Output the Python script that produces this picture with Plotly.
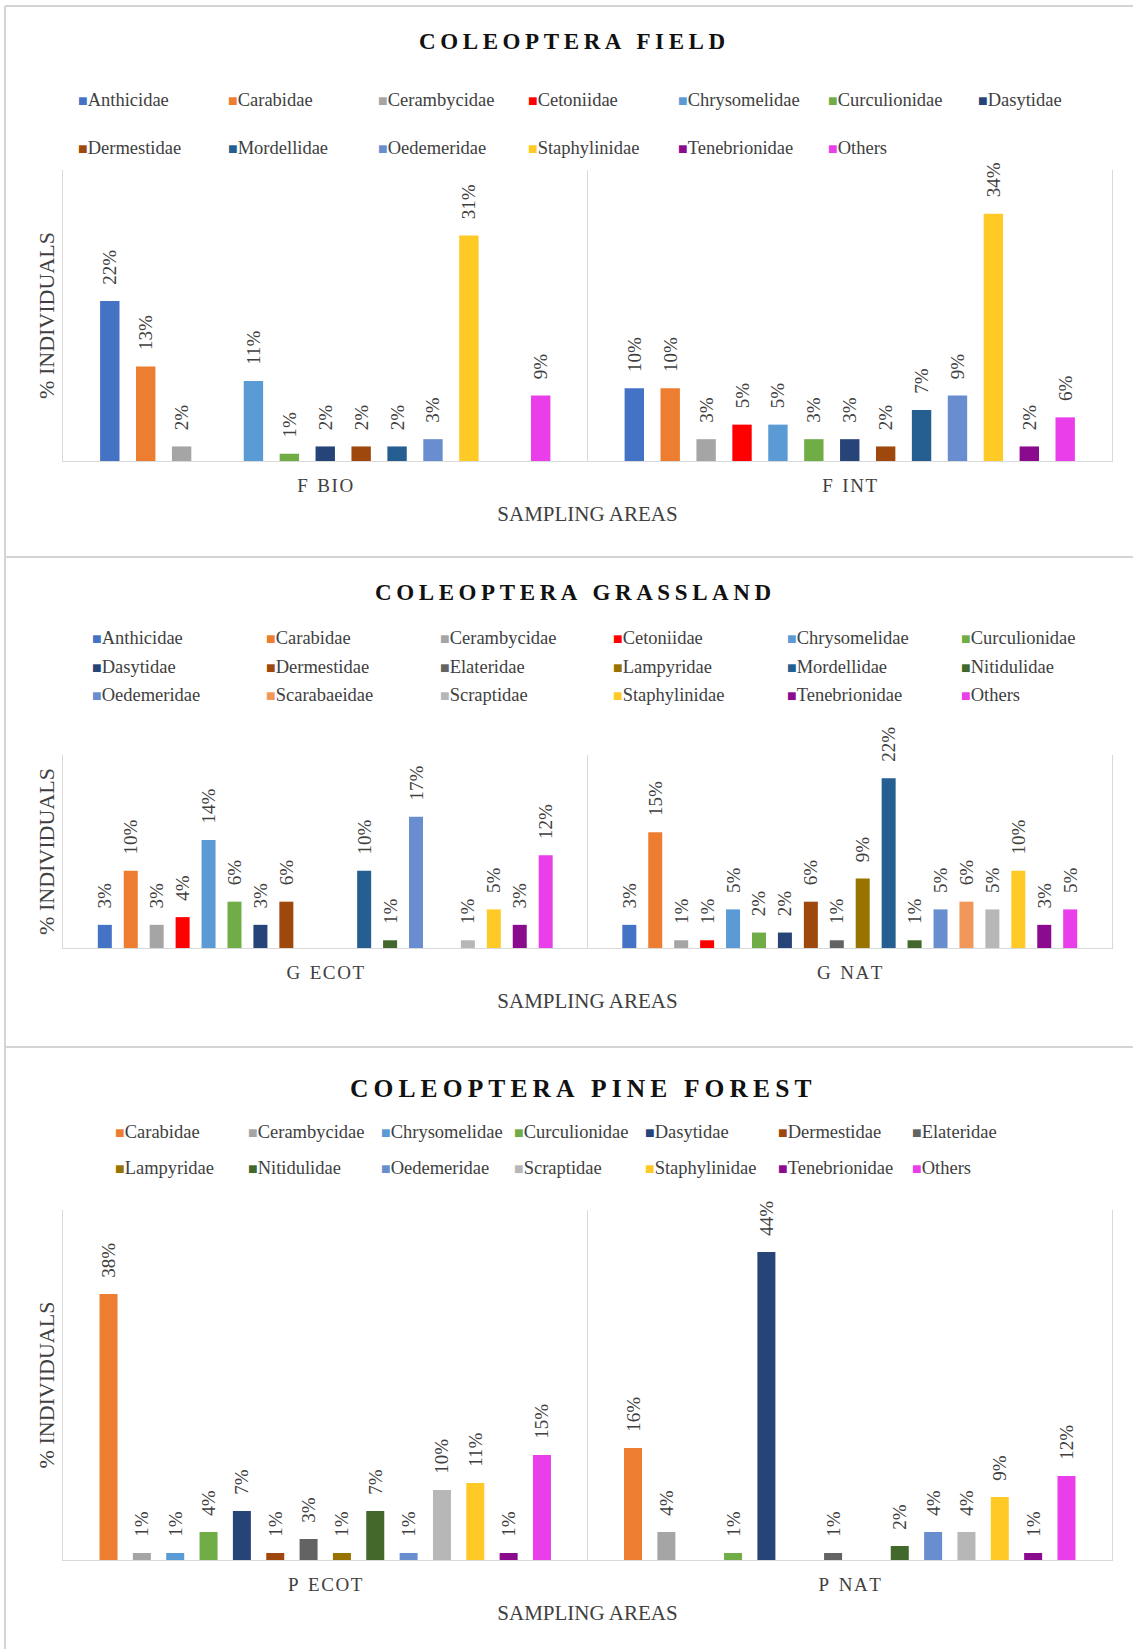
import plotly.graph_objects as go

# ---------------- data ----------------
field_areas = ["F BIO", "F INT"]
field_families = ["Anthicidae", "Carabidae", "Cerambycidae", "Cetoniidae", "Chrysomelidae",
                  "Curculionidae", "Dasytidae", "Dermestidae", "Mordellidae", "Oedemeridae",
                  "Staphylinidae", "Tenebrionidae", "Others"]
field_bio = [22, 13, 2, None, 11, 1, 2, 2, 2, 3, 31, None, 9]
field_int = [10, 10, 3, 5, 5, 3, 3, 2, 7, 9, 34, 2, 6]

grass_areas = ["G ECOT", "G NAT"]
grass_families = ["Anthicidae", "Carabidae", "Cerambycidae", "Cetoniidae", "Chrysomelidae",
                  "Curculionidae", "Dasytidae", "Dermestidae", "Elateridae", "Lampyridae",
                  "Mordellidae", "Nitidulidae", "Oedemeridae", "Scarabaeidae", "Scraptidae",
                  "Staphylinidae", "Tenebrionidae", "Others"]
grass_ecot = [3, 10, 3, 4, 14, 6, 3, 6, None, None, 10, 1, 17, None, 1, 5, 3, 12]
grass_nat = [3, 15, 1, 1, 5, 2, 2, 6, 1, 9, 22, 1, 5, 6, 5, 10, 3, 5]

pine_areas = ["P ECOT", "P NAT"]
pine_families = ["Carabidae", "Cerambycidae", "Chrysomelidae", "Curculionidae", "Dasytidae",
                 "Dermestidae", "Elateridae", "Lampyridae", "Nitidulidae", "Oedemeridae",
                 "Scraptidae", "Staphylinidae", "Tenebrionidae", "Others"]
pine_ecot = [38, 1, 1, 4, 7, 1, 3, 1, 7, 1, 10, 11, 1, 15]
pine_nat = [16, 4, None, 1, 44, None, 1, None, 2, 4, 4, 9, 1, 12]

family_colors = {
    "Anthicidae": "#4472C4", "Carabidae": "#ED7D31", "Cerambycidae": "#A5A5A5",
    "Cetoniidae": "#FF0000", "Chrysomelidae": "#5B9BD5", "Curculionidae": "#70AD47",
    "Dasytidae": "#264478", "Dermestidae": "#9E480E", "Elateridae": "#636363",
    "Lampyridae": "#997300", "Mordellidae": "#255E91", "Nitidulidae": "#43682B",
    "Oedemeridae": "#698ED0", "Scarabaeidae": "#F1975A", "Scraptidae": "#B7B7B7",
    "Staphylinidae": "#FFC926", "Tenebrionidae": "#8B0B8E", "Others": "#E93EE9",
}

# ---------------- styling ----------------
W, H = 1133, 1649
FONT = "Liberation Serif, Times New Roman, serif"
TXT = "#404040"
GRID = "#D9D9D9"
THIN, HAIR, EN = "\u2009", "\u200a", "\u2002"


def px_x(x):
    return x / W


def px_y(y):
    return 1 - y / H


def spaced_title(s):
    return THIN.join(s)


def spaced_area(s):
    first, rest = s.split(" ", 1)
    return first + EN + HAIR.join(rest)


panels = [
    dict(title="COLEOPTERA FIELD", title_x=572, title_y=41, title_size=23,
         families=field_families, areas=field_areas, values=[field_bio, field_int],
         ymax=40, top=170, base=461,
         legend_rows=[100, 148], legend_cols=[76, 226, 376, 526, 676, 826, 976]),
    dict(title="COLEOPTERA GRASSLAND", title_x=573, title_y=592, title_size=23,
         families=grass_families, areas=grass_areas, values=[grass_ecot, grass_nat],
         ymax=25, top=755, base=948,
         legend_rows=[638, 667, 695], legend_cols=[90, 264, 438, 611, 785, 959]),
    dict(title="COLEOPTERA PINE FOREST", title_x=580, title_y=1088, title_size=25.5,
         families=pine_families, areas=pine_areas, values=[pine_ecot, pine_nat],
         ymax=50, top=1210, base=1560,
         legend_rows=[1132, 1168], legend_cols=[113, 246, 379, 512, 643, 776, 910]),
]

fig = go.Figure()
annotations = []
layout_axes = {}

for p_idx, p in enumerate(panels, start=1):
    suffix = "" if p_idx == 1 else str(p_idx)
    xref, yref = "x" + suffix, "y" + suffix

    for i, fam in enumerate(p["families"]):
        ys = [vals[i] for vals in p["values"]]
        fig.add_trace(go.Bar(
            x=p["areas"], y=ys, name=fam,
            marker=dict(color=family_colors[fam], line=dict(width=0)),
            texttemplate=EN + THIN + "%{y}%",
            textposition="outside", textangle=-90, constraintext="none",
            textfont=dict(family=FONT, size=19, color=TXT),
            cliponaxis=False, showlegend=False,
            xaxis=xref, yaxis=yref,
        ))

    layout_axes["xaxis" + suffix] = dict(
        domain=[px_x(63), px_x(1112)], anchor=yref,
        type="category", categoryorder="array", categoryarray=p["areas"],
        tickvals=p["areas"], ticktext=[spaced_area(a) for a in p["areas"]],
        tickson="boundaries", ticks="", showgrid=True, gridcolor=GRID, gridwidth=1,
        showline=True, linecolor=GRID, linewidth=1,
        tickfont=dict(family=FONT, size=19, color=TXT), ticklabelstandoff=7,
        title=dict(text="SAMPLING AREAS", font=dict(family=FONT, size=21, color=TXT),
                   standoff=11),
        fixedrange=True,
    )
    layout_axes["yaxis" + suffix] = dict(
        domain=[px_y(p["base"]), px_y(p["top"])], anchor=xref,
        range=[0, p["ymax"]], showgrid=False, zeroline=False,
        showticklabels=False, ticks="", showline=True, mirror=True,
        linecolor=GRID, linewidth=1,
        title=dict(text="% INDIVIDUALS", font=dict(family=FONT, size=22, color=TXT),
                   standoff=1),
        fixedrange=True,
    )

    # panel heading
    annotations.append(dict(
        text="<b>" + spaced_title(p["title"]) + "</b>",
        x=px_x(p["title_x"]), y=px_y(p["title_y"]),
        xref="paper", yref="paper", xanchor="center", yanchor="middle", showarrow=False,
        font=dict(family=FONT, size=p["title_size"], color="#111111"),
    ))

    # family key in columns
    ncols = len(p["legend_cols"])
    for k, fam in enumerate(p["families"]):
        row, col = divmod(k, ncols)
        annotations.append(dict(
            text=f"<span style='color:{family_colors[fam]};font-size:16px'>\u25a0</span>{fam}",
            x=px_x(p["legend_cols"][col]), y=px_y(p["legend_rows"][row]),
            xref="paper", yref="paper", xanchor="left", yanchor="middle", showarrow=False,
            font=dict(family=FONT, size=18.5, color=TXT),
        ))

# panel frames
frame = dict(type="line", xref="paper", yref="paper", line=dict(color="#D4D4D4", width=2))
shapes = [
    dict(frame, x0=px_x(5), x1=1.01, y0=px_y(6), y1=px_y(6)),
    dict(frame, x0=px_x(5), x1=px_x(5), y0=px_y(6), y1=-0.01),
    dict(frame, x0=px_x(5), x1=1.01, y0=px_y(557), y1=px_y(557)),
    dict(frame, x0=px_x(5), x1=1.01, y0=px_y(1047), y1=px_y(1047)),
]

fig.update_layout(
    width=W, height=H, margin=dict(l=0, r=0, t=0, b=0),
    paper_bgcolor="white", plot_bgcolor="white",
    barmode="group", bargap=0.11, bargroupgap=0.46,
    showlegend=False, annotations=annotations, shapes=shapes,
    font=dict(family=FONT, color=TXT),
    **layout_axes,
)

fig.write_html("out.html")
